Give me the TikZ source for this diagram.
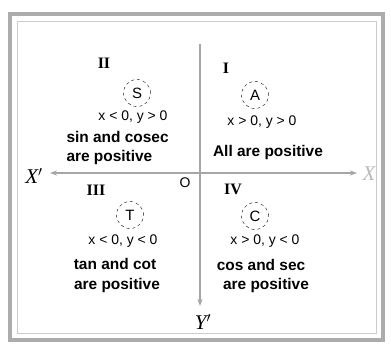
\documentclass[tikz,border=0pt]{standalone}
\usepackage{fontspec}
\setmainfont{Liberation Sans}
\newfontfamily\serifl{Liberation Serif}
\usetikzlibrary{arrows.meta}
\begin{document}
\begin{tikzpicture}[x=1bp,y=-1bp,
  axis/.style={draw=gray!70,line width=1.5pt,-{Stealth[length=7pt,width=5pt]}},
  letter/.style={draw,dashed,circle,minimum size=27bp,inner sep=0pt,font=\fontsize{15}{15}\selectfont},
  cond/.style={font=\fontsize{14}{14}\selectfont},
  desc/.style={font=\bfseries\fontsize{15.5}{21}\selectfont},
  roman/.style={font=\serifl\bfseries\fontsize{16}{16}\selectfont},
  axlab/.style={font=\serifl\itshape\fontsize{21}{21}\selectfont}]
\useasboundingbox (0,0) rectangle (391,347);
\draw[gray!65,line width=4pt] (10,14) rectangle (383,340);
\draw[gray!40,line width=0.6pt] (17,21) rectangle (376,333);
\coordinate (xl) at (50,173);
\coordinate (xr) at (357,173);
\coordinate (yt) at (200,44);
\coordinate (yb) at (200,306);
\coordinate (o) at (200,173);
\draw[axis] (yt) -- (yb);
\draw[axis] (o) -- (xr);
\draw[axis] (o) -- (xl);
\node[axlab] (Xl) at (34,176) {X$'$};
\node[axlab,gray!55] (Xr) at (369,174) {X};
\node[axlab] (Yb) at (203,322) {Y$'$};
\node[font=\fontsize{14}{14}\selectfont] (O) at (185,183) {O};
\node[roman] (q2) at (104,63) {II};
\node[roman] (q1) at (226,68) {I};
\node[roman] (q3) at (96,190) {III};
\node[roman] (q4) at (233,189) {IV};
\node[letter] (S) at (137,93) {S};
\node[letter] (A) at (255,95) {A};
\node[letter] (T) at (130,215) {T};
\node[letter] (C) at (255,216) {C};
\node[cond] (cS) at (133,117) {x < 0, y > 0};
\node[cond] (cA) at (262,122) {x > 0, y > 0};
\node[cond] (cT) at (123,241) {x < 0, y < 0};
\node[cond] (cC) at (265,241) {x > 0, y < 0};
\node[desc,anchor=west] (dS1) at (63,137) {sin and cosec};
\node[desc,anchor=west] (dS2) at (63,158) {are positive};
\node[desc] (dA) at (268,153) {All are positive};
\node[desc] (dT1) at (115,264) {tan and cot};
\node[desc] (dT2) at (117,286) {are positive};
\node[desc] (dC1) at (261,265) {cos and sec};
\node[desc] (dC2) at (266,286) {are positive};
\end{tikzpicture}
\end{document}
